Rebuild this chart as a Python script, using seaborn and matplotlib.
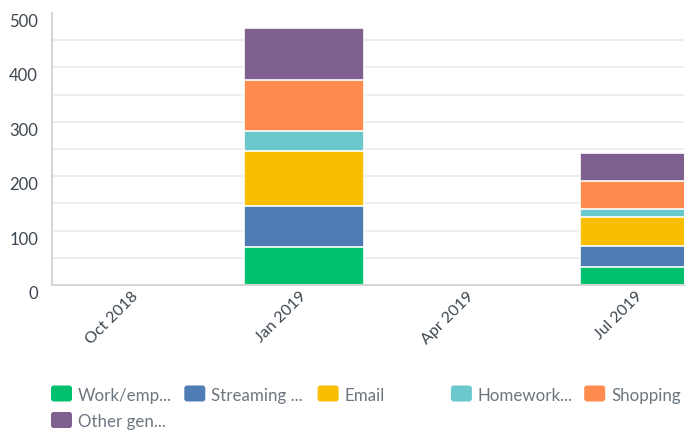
import matplotlib
matplotlib.use("Agg")
import matplotlib.pyplot as plt
from matplotlib.patches import FancyBboxPatch
from matplotlib.ticker import FixedLocator
import numpy as np
import seaborn as sns

# Quarterly responses, split by internet use category
quarters = ["Oct 2018", "Jan 2019", "Apr 2019", "Jul 2019"]
series_names = ["Work/emp...", "Streaming ...", "Email", "Homework...", "Shopping", "Other gen..."]
work = [0, 70, 0, 33]
streaming = [0, 76, 0, 39]
email = [0, 101, 0, 53]
homework = [0, 37, 0, 15]
shopping = [0, 92, 0, 52]
other = [0, 97, 0, 50]
colors = ["#00BF6F", "#507CB6", "#F9BE00", "#6BC8CD", "#FF8B4F", "#7F5F90"]
y_ticks = [0, 100, 200, 300, 400, 500]
grid_levels = [50, 100, 150, 200, 250, 300, 350, 400, 450]

sns.set_theme(style="white")
plt.rcParams["font.family"] = ["Lato", "DejaVu Sans"]

tick_color = "#3d4650"
legend_color = "#6b7680"

W, H = 697, 435
fig = plt.figure(figsize=(W / 100, H / 100), dpi=100)
ax = fig.add_axes([52 / W, 1 - 286 / H, (684 - 52) / W, (286 - 14) / H])

# Stacked bars: draw cumulative totals from the top series down
stack = np.array([work, streaming, email, homework, shopping, other], dtype=float)
cum = np.cumsum(stack, axis=0)
for level in range(len(series_names) - 1, -1, -1):
    sns.barplot(x=quarters, y=cum[level], color=colors[level], width=0.714,
                errorbar=None, saturation=1, edgecolor="white", linewidth=1.2,
                ax=ax)

ax.set_xlim(-0.5, 3.262)
ax.set_ylim(0, 500)
ax.set_xlabel("")
ax.set_ylabel("")

# Light horizontal grid every 50 (minor ticks), labels every 100
ax.set_yticks(y_ticks)
ax.set_yticklabels([str(v) for v in y_ticks], fontsize=12, color=tick_color, va="top")
ax.yaxis.set_minor_locator(FixedLocator(grid_levels))
ax.yaxis.remove_overlapping_locs = False
ax.grid(False)
ax.grid(axis="y", which="minor", color="#ececec", linewidth=1.3)
ax.set_axisbelow(True)

ax.tick_params(axis="y", which="both", length=0, pad=10)
ax.tick_params(axis="x", length=0, pad=6)
for lbl in ax.get_xticklabels():
    lbl.set_rotation(45)
    lbl.set_ha("right")
    lbl.set_va("center")
    lbl.set_rotation_mode("anchor")
    lbl.set_fontsize(11.5)
    lbl.set_color(tick_color)

for side in ["top", "right"]:
    ax.spines[side].set_visible(False)
for side in ["left", "bottom"]:
    ax.spines[side].set_color("#d6d6d6")
    ax.spines[side].set_linewidth(1.5)

# Legend laid out in fixed-width columns beneath the chart
col_w = 133.3
for i, (name, col) in enumerate(zip(series_names, colors)):
    row, c = divmod(i, 5)
    x0 = 51 + c * col_w
    yc = 394.5 + row * 26.5
    patch = FancyBboxPatch((x0 / W, (H - yc - 8) / H), 21 / W, 16 / H,
                           boxstyle="round,pad=0,rounding_size=0.004",
                           transform=fig.transFigure, facecolor=col,
                           edgecolor="none", mutation_aspect=W / H)
    fig.patches.append(patch)
    fig.text((x0 + 27) / W, (H - yc) / H, name, fontsize=12.2,
             color=legend_color, va="center_baseline", ha="left")

fig.savefig("out.png", dpi=100)
